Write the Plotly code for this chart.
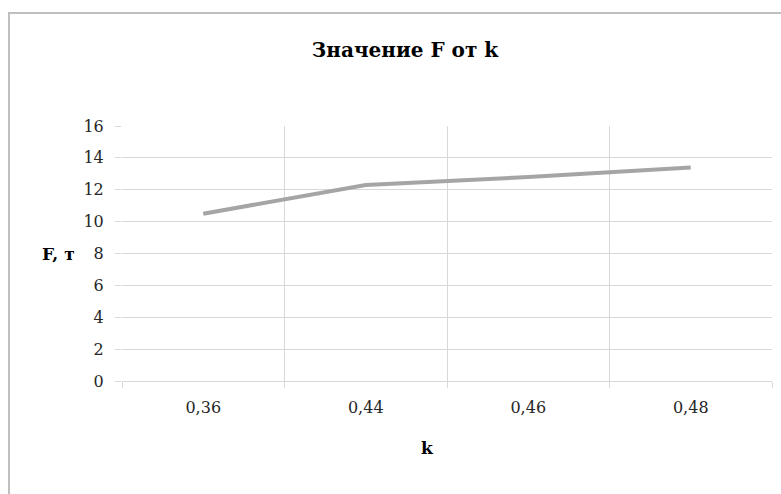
import plotly.graph_objects as go

categories = ["0,36", "0,44", "0,46", "0,48"]
values = [10.5, 12.3, 12.8, 13.4]
y_ticks = [0, 2, 4, 6, 8, 10, 12, 14, 16]

W, H = 781, 494
L, R, T, B = 122, 9, 126, 113
pw, ph = W - L - R, H - T - B

font_family = "DejaVu Serif"
grid = "#d9d9d9"

fig = go.Figure()
fig.add_trace(go.Scatter(
    x=categories, y=values, mode="lines",
    line=dict(color="#a5a5a5", width=4),
    showlegend=False, hoverinfo="skip",
))

fig.update_layout(
    width=W, height=H,
    margin=dict(l=L, r=R, t=T, b=B),
    paper_bgcolor="white", plot_bgcolor="white",
    font=dict(family=font_family, color="#262626", size=16),
    title=dict(text="<b>Значение F от k</b>", x=405 / W, xanchor="center",
               y=1 - 50 / H, yanchor="middle",
               font=dict(family=font_family, size=20, color="#000000")),
    xaxis=dict(type="category", tickson="boundaries", showgrid=True,
               gridcolor=grid, gridwidth=1, ticks="outside", ticklen=6,
               tickcolor=grid, showline=True, linecolor=grid, linewidth=1,
               range=[-0.5, 3.5], zeroline=False, ticklabelstandoff=12,
               tickfont=dict(family=font_family, size=16, color="#262626")),
    yaxis=dict(range=[0, 16], tickvals=y_ticks, showgrid=True,
               gridcolor=grid, gridwidth=1, ticks="outside", ticklen=6,
               tickcolor=grid, showline=False, zeroline=False,
               ticklabelstandoff=8,
               tickfont=dict(family=font_family, size=16, color="#262626")),
)

# axis titles (horizontal, as in the original)
fig.add_annotation(text="<b>F, т</b>", xref="paper", yref="paper",
                   x=(58 - L) / pw, y=(H - B - 254) / ph,
                   showarrow=False, xanchor="center", yanchor="middle",
                   font=dict(family=font_family, size=17, color="#000000"))
fig.add_annotation(text="<b>k</b>", xref="paper", yref="paper",
                   x=(427 - L) / pw, y=(H - B - 448) / ph,
                   showarrow=False, xanchor="center", yanchor="middle",
                   font=dict(family=font_family, size=17, color="#000000"))

# chart-area border
fig.add_shape(type="rect", xref="paper", yref="paper",
              x0=(9 - L) / pw, x1=(W + 20 - L) / pw,
              y0=(H - B - (H + 20)) / ph, y1=(H - B - 13) / ph,
              line=dict(color="#bfbfbf", width=2), fillcolor="rgba(0,0,0,0)",
              layer="below")

fig.write_html("out.html")
